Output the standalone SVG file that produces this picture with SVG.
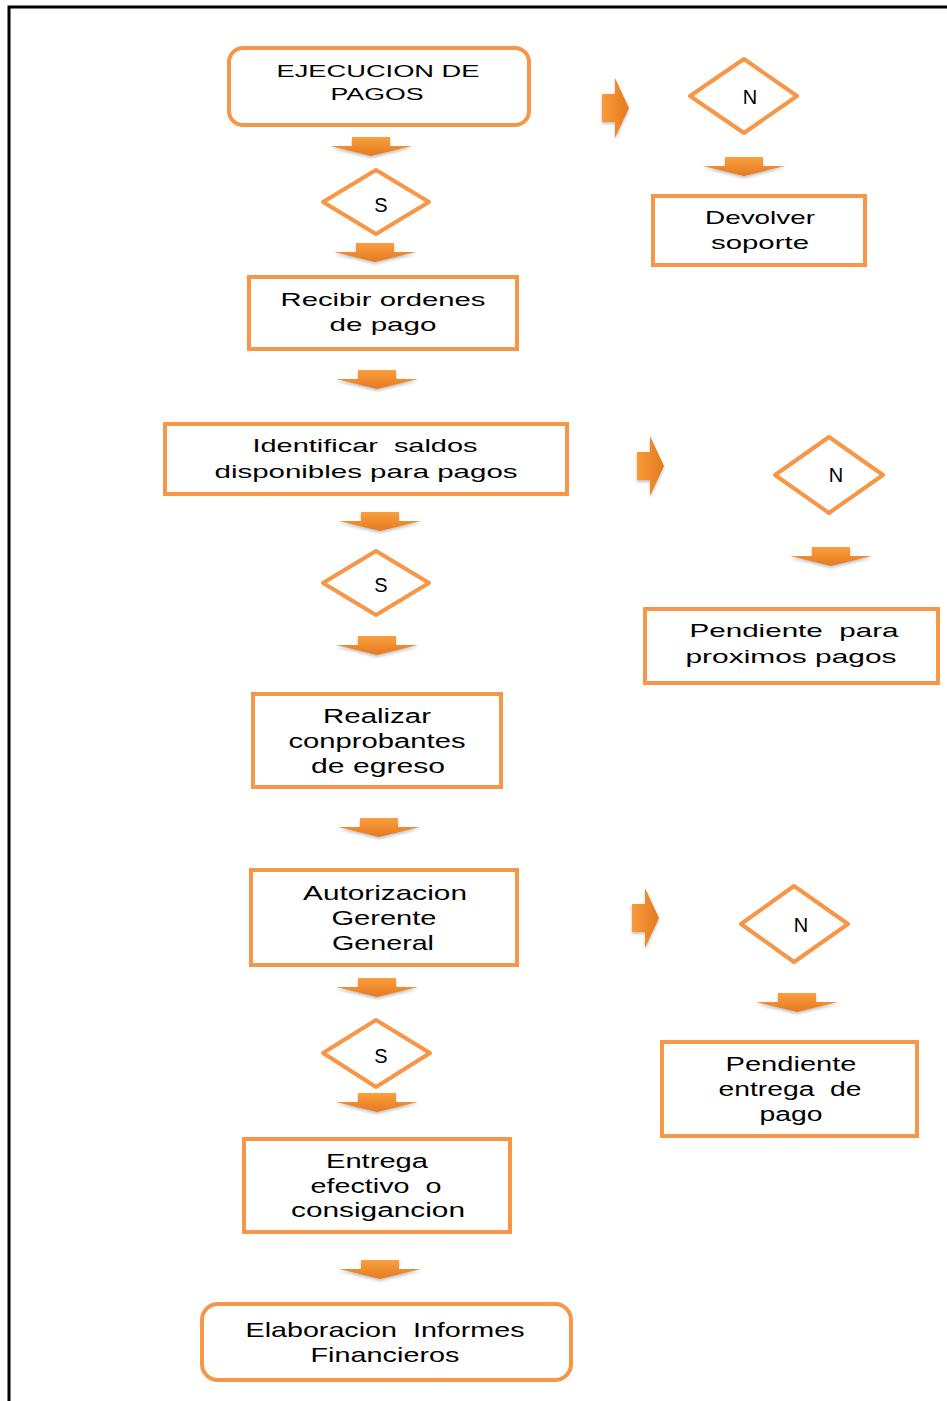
<svg xmlns="http://www.w3.org/2000/svg" xmlns:xlink="http://www.w3.org/1999/xlink" width="947" height="1401" viewBox="0 0 947 1401">
<style>
.box{fill:#fff;stroke:#F79646;stroke-width:4;}
.dia{fill:#fff;stroke:#F79646;stroke-width:4;stroke-linejoin:round;}
.t{font-family:"Liberation Sans",Arial,sans-serif;fill:#000;text-anchor:middle;}
.p{white-space:pre;}
.dn{fill:url(#gd);filter:url(#sh);}
.rt{fill:url(#gr);filter:url(#sh);}
</style>
<defs>
<linearGradient id="gd" x1="0" y1="0" x2="0" y2="1">
<stop offset="0" stop-color="#FA9F3C"/>
<stop offset="1" stop-color="#E47A22"/>
</linearGradient>
<linearGradient id="gr" x1="0" y1="0" x2="1" y2="0">
<stop offset="0" stop-color="#FA9A38"/>
<stop offset="1" stop-color="#E47A22"/>
</linearGradient>
<filter id="sh" x="-30%" y="-30%" width="160%" height="180%">
<feDropShadow dx="0" dy="2" stdDeviation="1.5" flood-color="#777" flood-opacity="0.45"/>
</filter>
<path id="down" d="M-19,0 H19 V9 H41 L0,19 L-41,9 H-19 Z"/>
<path id="right" d="M0,-14 H13 V-30 L27,0 L13,30 V14 H0 Z"/>
</defs>
<rect width="947" height="1401" fill="#fff"/>
<path d="M9,1401 V7 H947" fill="none" stroke="#000" stroke-width="3"/>

<g id="connectors">
<use href="#down" class="dn" x="371" y="137"/>
<use href="#down" class="dn" x="375" y="243"/>
<use href="#down" class="dn" x="377" y="370"/>
<use href="#down" class="dn" x="380" y="512"/>
<use href="#down" class="dn" x="377" y="636"/>
<use href="#down" class="dn" x="379" y="818"/>
<use href="#down" class="dn" x="377" y="978"/>
<use href="#down" class="dn" x="377" y="1093"/>
<use href="#down" class="dn" x="380" y="1260"/>
<use href="#down" class="dn" x="744" y="157"/>
<use href="#down" class="dn" x="831" y="547"/>
<use href="#down" class="dn" x="797" y="993"/>
<use href="#right" class="rt" x="602" y="108"/>
<use href="#right" class="rt" x="637" y="466"/>
<use href="#right" class="rt" x="632" y="918"/>
</g>

<g id="n-ejecucion">
<rect class="box" x="229" y="48" width="300" height="77" rx="14"/>
<text class="t" font-size="17" x="378" y="77" textLength="203" lengthAdjust="spacingAndGlyphs">EJECUCION DE</text>
<text class="t" font-size="17" x="377" y="100" textLength="93" lengthAdjust="spacingAndGlyphs">PAGOS</text>
</g>
<g id="d-s1">
<polygon class="dia" points="376,170 429,202 376,234 323,202"/>
<text class="t" font-size="20" x="381" y="212">S</text>
</g>
<g id="n-recibir">
<rect class="box" x="249" y="277" width="268" height="72"/>
<text class="t" font-size="19" x="383" y="306" textLength="205" lengthAdjust="spacingAndGlyphs">Recibir ordenes</text>
<text class="t" font-size="19" x="383" y="331" textLength="107" lengthAdjust="spacingAndGlyphs">de pago</text>
</g>
<g id="n-identificar">
<rect class="box" x="165" y="424" width="402" height="70"/>
<text class="t p" xml:space="preserve" font-size="18.5" x="365" y="452" textLength="225" lengthAdjust="spacingAndGlyphs">Identificar  saldos</text>
<text class="t" font-size="18.5" x="366" y="478" textLength="303" lengthAdjust="spacingAndGlyphs">disponibles para pagos</text>
</g>
<g id="d-s2">
<polygon class="dia" points="376,551 429,583 376,615 323,583"/>
<text class="t" font-size="20" x="381" y="592">S</text>
</g>
<g id="n-realizar">
<rect class="box" x="253" y="694" width="248" height="93"/>
<text class="t" font-size="20" x="377" y="723" textLength="108" lengthAdjust="spacingAndGlyphs">Realizar</text>
<text class="t" font-size="20" x="377" y="748" textLength="177" lengthAdjust="spacingAndGlyphs">conprobantes</text>
<text class="t" font-size="20" x="378" y="773" textLength="134" lengthAdjust="spacingAndGlyphs">de egreso</text>
</g>
<g id="n-autorizacion">
<rect class="box" x="251" y="870" width="266" height="95"/>
<text class="t" font-size="21" x="385" y="900" textLength="164" lengthAdjust="spacingAndGlyphs">Autorizacion</text>
<text class="t" font-size="21" x="384" y="925" textLength="105" lengthAdjust="spacingAndGlyphs">Gerente</text>
<text class="t" font-size="21" x="383" y="950" textLength="102" lengthAdjust="spacingAndGlyphs">General</text>
</g>
<g id="d-s3">
<polygon class="dia" points="376,1020 430,1053 376,1087 323,1053"/>
<text class="t" font-size="20" x="381" y="1063">S</text>
</g>
<g id="n-entrega">
<rect class="box" x="244" y="1139" width="266" height="93"/>
<text class="t" font-size="20" x="377" y="1168" textLength="102" lengthAdjust="spacingAndGlyphs">Entrega</text>
<text class="t p" xml:space="preserve" font-size="20" x="376" y="1193" textLength="131" lengthAdjust="spacingAndGlyphs">efectivo  o</text>
<text class="t" font-size="20" x="378" y="1217" textLength="174" lengthAdjust="spacingAndGlyphs">consigancion</text>
</g>
<g id="n-elaboracion">
<rect class="box" x="202" y="1304" width="369" height="76" rx="16"/>
<text class="t p" xml:space="preserve" font-size="21" x="385" y="1337" textLength="279" lengthAdjust="spacingAndGlyphs">Elaboracion  Informes</text>
<text class="t" font-size="21" x="385" y="1362" textLength="149" lengthAdjust="spacingAndGlyphs">Financieros</text>
</g>
<g id="d-n1">
<polygon class="dia" points="744,59 797,96 744,133 690,96"/>
<text class="t" font-size="20" x="750" y="104">N</text>
</g>
<g id="n-devolver">
<rect class="box" x="653" y="196" width="212" height="69"/>
<text class="t" font-size="19" x="760" y="224" textLength="110" lengthAdjust="spacingAndGlyphs">Devolver</text>
<text class="t" font-size="19" x="760" y="249" textLength="98" lengthAdjust="spacingAndGlyphs">soporte</text>
</g>
<g id="d-n2">
<polygon class="dia" points="829,437 883,475 829,513 775,475"/>
<text class="t" font-size="20" x="836" y="482">N</text>
</g>
<g id="n-pendiente-proximos">
<rect class="box" x="645" y="609" width="293" height="74"/>
<text class="t p" xml:space="preserve" font-size="18.5" x="794" y="637" textLength="209" lengthAdjust="spacingAndGlyphs">Pendiente  para</text>
<text class="t" font-size="18.5" x="791" y="663" textLength="211" lengthAdjust="spacingAndGlyphs">proximos pagos</text>
</g>
<g id="d-n3">
<polygon class="dia" points="794,886 848,924 794,962 741,924"/>
<text class="t" font-size="20" x="801" y="932">N</text>
</g>
<g id="n-pendiente-entrega">
<rect class="box" x="662" y="1042" width="255" height="94"/>
<text class="t" font-size="20" x="791" y="1071" textLength="131" lengthAdjust="spacingAndGlyphs">Pendiente</text>
<text class="t p" xml:space="preserve" font-size="20" x="790" y="1096" textLength="143" lengthAdjust="spacingAndGlyphs">entrega  de</text>
<text class="t" font-size="20" x="791" y="1121" textLength="63" lengthAdjust="spacingAndGlyphs">pago</text>
</g>
</svg>
